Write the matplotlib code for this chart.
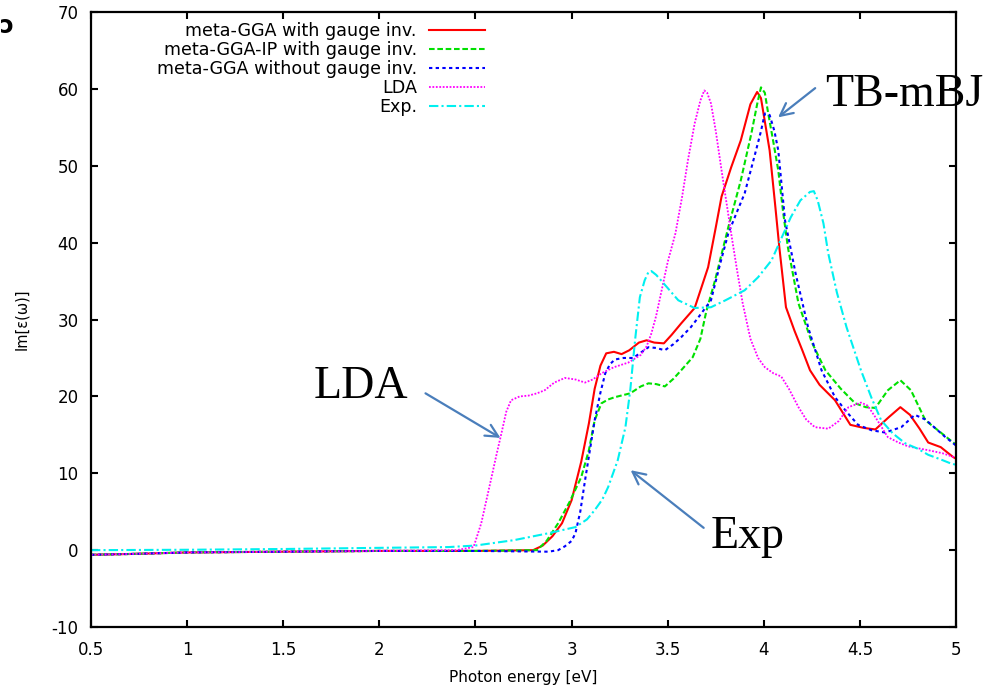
import matplotlib

matplotlib.use("Agg")
import matplotlib.pyplot as plt

# Im[eps(w)] curves
red_x = [0.5, 0.7, 1.0, 1.5, 2.0, 2.5, 2.8, 2.85, 2.9, 2.95, 3.0, 3.05, 3.09, 3.12, 3.15, 3.18,
         3.22, 3.26, 3.3, 3.35, 3.39, 3.43, 3.48, 3.52, 3.57, 3.64, 3.71, 3.75, 3.78, 3.83, 3.88,
         3.93, 3.965, 3.985, 4.03, 4.06, 4.08, 4.115, 4.16, 4.2, 4.24, 4.29, 4.37, 4.45, 4.52,
         4.58, 4.65, 4.71, 4.76, 4.81, 4.855, 4.92, 4.985, 5.0]
red_y = [-0.6, -0.5, -0.3, -0.2, -0.1, -0.1, 0.0, 0.6, 1.8, 3.5, 6.5, 11.5, 16.5, 21.0, 24.0, 25.6,
         25.8, 25.5, 26.0, 27.0, 27.3, 27.0, 26.9, 28.0, 29.5, 31.5, 36.8, 42.0, 46.0, 49.8, 53.3,
         58.0, 59.6, 58.8, 52.0, 44.6, 39.5, 31.6, 28.5, 26.0, 23.4, 21.5, 19.5, 16.3, 15.9,
         15.7, 17.3, 18.6, 17.6, 15.8, 14.0, 13.4, 12.1, 11.9]

green_x = [0.5, 0.7, 1.0, 1.5, 2.0, 2.5, 2.82, 2.87, 2.93, 2.99, 3.05, 3.09, 3.12, 3.155, 3.19,
           3.225, 3.305, 3.36, 3.4, 3.44, 3.485, 3.53, 3.57, 3.63, 3.67, 3.7, 3.745, 3.815, 3.88,
           3.935, 3.965, 3.985, 4.005, 4.02, 4.05, 4.075, 4.1, 4.125, 4.18, 4.25, 4.32, 4.4,
           4.475, 4.53, 4.58, 4.645, 4.71, 4.765, 4.84, 4.92, 4.985, 5.0]
green_y = [-0.6, -0.5, -0.3, -0.2, -0.1, -0.1, 0.0, 1.2, 3.5, 6.3, 9.5, 13.0, 16.9, 19.1, 19.6,
           19.9, 20.4, 21.3, 21.7, 21.6, 21.3, 22.3, 23.4, 25.1, 27.5, 31.0, 35.0, 42.0, 48.1,
           54.2, 58.0, 60.2, 59.5, 57.2, 53.0, 49.4, 44.0, 39.4, 32.1, 27.0, 23.4, 21.0,
           19.1, 18.6, 18.5, 20.8, 22.1, 20.8, 16.9, 15.3, 14.0, 13.7]

blue_x = [0.5, 0.7, 1.0, 1.5, 2.0, 2.5, 2.88, 2.93, 2.965, 3.0, 3.02, 3.045, 3.07, 3.095, 3.12,
          3.15, 3.175, 3.2, 3.225, 3.27, 3.32, 3.36, 3.4, 3.44, 3.485, 3.53, 3.57, 3.62, 3.66,
          3.725, 3.77, 3.815, 3.86, 3.9, 3.955, 3.985, 4.005, 4.03, 4.055, 4.075, 4.11, 4.165,
          4.23, 4.3, 4.37, 4.43, 4.49, 4.56, 4.63, 4.715, 4.785, 4.84, 4.89, 4.94, 4.985, 5.0]
blue_y = [-0.6, -0.5, -0.3, -0.2, -0.1, -0.1, -0.2, 0.0, 0.5, 1.2, 2.2, 5.0, 9.1, 13.0, 16.9,
          20.5, 23.0, 24.2, 24.8, 25.0, 25.0, 25.7, 26.4, 26.3, 26.0, 26.8, 27.7, 29.0, 30.3,
          32.5, 37.0, 41.2, 44.0, 46.4, 51.6, 54.5, 56.8, 56.6, 54.5, 52.0, 42.9, 36.0,
          29.0, 23.4, 19.9, 18.0, 16.3, 15.6, 15.3, 16.0, 17.6, 17.0, 15.9, 14.8, 13.9, 13.6]

lda_x = [0.5, 0.7, 1.0, 1.5, 2.0, 2.4, 2.49, 2.53, 2.58, 2.61, 2.635, 2.66, 2.685, 2.73, 2.775,
         2.82, 2.86, 2.91, 2.965, 3.02, 3.07, 3.11, 3.155, 3.22, 3.295, 3.36, 3.39, 3.415, 3.44,
         3.47, 3.5, 3.54, 3.575, 3.605, 3.64, 3.67, 3.69, 3.705, 3.725, 3.75, 3.78, 3.83, 3.86,
         3.89, 3.93, 3.97, 4.005, 4.05, 4.09, 4.13, 4.18, 4.22, 4.265, 4.335, 4.39, 4.44,
         4.505, 4.54, 4.58, 4.645, 4.7, 4.75, 4.855, 4.93, 5.0]
lda_y = [-0.6, -0.5, -0.3, -0.2, -0.1, 0.0, 0.4, 3.5, 9.1, 12.5, 15.2, 18.0, 19.5, 20.0, 20.1,
         20.4, 20.8, 21.8, 22.4, 22.2, 21.8, 22.2, 23.0, 23.8, 24.4, 25.4, 26.5, 28.2, 30.5,
         34.0, 37.5, 41.2, 46.0, 50.7, 55.5, 58.5, 59.8, 59.5, 58.1, 54.5, 49.4, 41.2, 36.5,
         32.1, 27.5, 25.0, 23.8, 23.0, 22.6, 21.0, 18.6, 17.0, 16.0, 15.8, 16.8, 18.6,
         19.2, 18.8, 17.3, 14.7, 14.0, 13.5, 13.0, 12.6, 12.0]

exp_x = [0.5, 1.0, 1.5, 2.0, 2.36, 2.5, 2.7, 2.88, 3.02, 3.08, 3.12, 3.16, 3.19, 3.24, 3.28,
         3.305, 3.33, 3.355, 3.38, 3.4, 3.415, 3.44, 3.465, 3.51, 3.555, 3.64, 3.725, 3.8, 3.9,
         3.97, 4.04, 4.09, 4.14, 4.19, 4.24, 4.26, 4.28, 4.31, 4.335, 4.38, 4.43, 4.505, 4.56,
         4.61, 4.67, 4.735, 4.8, 4.855, 4.92, 4.97, 5.0]
exp_y = [0.0, 0.05, 0.15, 0.3, 0.4, 0.6, 1.3, 2.2, 3.0, 4.0, 5.2, 6.6, 8.2, 11.7, 16.0,
         20.8, 27.3, 32.9, 35.1, 36.2, 36.3, 35.8, 35.1, 33.8, 32.5, 31.5, 31.6, 32.5, 33.8,
         35.5, 37.7, 40.5, 43.3, 45.5, 46.6, 46.7, 45.5, 42.5, 38.6, 33.5, 29.0, 23.4, 19.8,
         16.9, 15.2, 13.9, 13.2, 12.4, 11.8, 11.3, 11.1]

labels = ["meta-GGA with gauge inv.", "meta-GGA-IP with gauge inv.",
          "meta-GGA without gauge inv.", "LDA", "Exp."]

# (text, text x, text y, arrow tail, arrow head)
notes = [
    ("TB-mBJ", 4.32, 57.8, (4.267, 60.1), (4.074, 56.3)),
    ("LDA", 1.656, 19.8, (2.24, 20.4), (2.63, 14.6)),
    ("Exp", 3.724, 0.3, (3.687, 2.9), (3.307, 10.4)),
]

plt.rcParams["font.family"] = ["DejaVu Sans"]
plt.rcParams["axes.unicode_minus"] = False

fig = plt.figure(figsize=(10.02, 6.87), dpi=100)
ax = fig.add_axes([0.0908, 0.0873, 0.8634, 0.8952])

lw = 1.5
ax.plot(red_x, red_y, color="#ff0000", lw=lw, label=labels[0])
ax.plot(green_x, green_y, color="#00e000", lw=lw, dashes=(2.7, 1.3), label=labels[1])
ax.plot(blue_x, blue_y, color="#0000ff", lw=lw, dashes=(1.6, 1.6), label=labels[2])
ax.plot(lda_x, lda_y, color="#ff00ff", lw=1.3, dashes=(1, 0.9), label=labels[3])
ax.plot(exp_x, exp_y, color="#00f0f0", lw=lw, dashes=(4.5, 1.5, 1, 1.5), label=labels[4])

for text, tx, ty, tail, head in notes:
    ax.text(tx, ty, text, family="Liberation Serif", fontsize=33, ha="left", va="baseline",
            zorder=2, clip_on=False)
    ax.annotate("", xy=head, xytext=tail,
                arrowprops=dict(arrowstyle="->,head_length=0.9,head_width=0.45",
                                color="#4a7ebb", lw=1.6, shrinkA=0, shrinkB=0))

ax.set_xlim(0.5, 5)
ax.set_ylim(-10, 70)
ax.set_xticks([0.5, 1, 1.5, 2, 2.5, 3, 3.5, 4, 4.5, 5])
ax.set_xticklabels(["0.5", "1", "1.5", "2", "2.5", "3", "3.5", "4", "4.5", "5"])
ax.set_yticks(range(-10, 71, 10))
ax.tick_params(direction="in", length=5, width=1.5, top=True, right=True, labelsize=12)
ax.tick_params(axis="y", pad=9)
ax.tick_params(axis="x", pad=10)
for sp in ax.spines.values():
    sp.set_linewidth(1.6)

ax.set_xlabel("Photon energy [eV]", fontsize=11, labelpad=8)
ax.set_ylabel("Im[ε(ω)]", fontsize=10.5, labelpad=16)

ax.legend(loc="upper right", bbox_to_anchor=(0.4555, 0.984), frameon=False, markerfirst=False,
          fontsize=12.6, labelspacing=0.06, handlelength=3.2, handletextpad=0.7,
          borderpad=0, borderaxespad=0)

# stray glyph at the top-left corner of the source image
fig.text(0.0, 1 - 26 / 687, "ɔ", fontsize=17, fontweight="bold", ha="left", va="center")

fig.savefig("out.png", dpi=100)
